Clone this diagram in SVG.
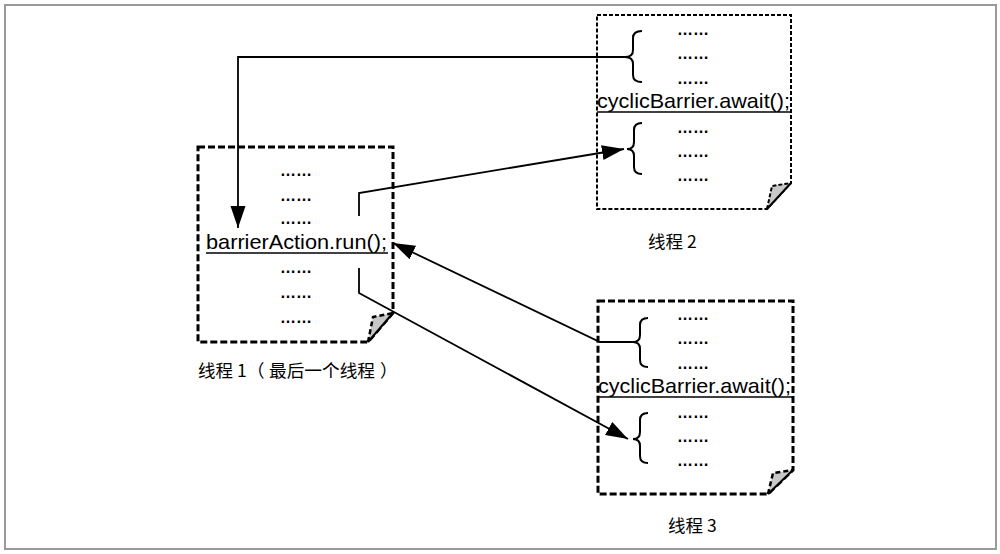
<svg xmlns="http://www.w3.org/2000/svg" width="1000" height="554" viewBox="0 0 1000 554">
<defs>
<marker id="arr" markerUnits="userSpaceOnUse" markerWidth="24" markerHeight="16" refX="22" refY="7.5" orient="auto">
<path d="M0,0 L22,7.5 L0,15 Z" fill="#000"/>
</marker>
<style>
.frame{fill:#fff;stroke:#9a9a9a;stroke-width:2}
.boxA{fill:none;stroke:#000;stroke-width:3;stroke-dasharray:7 3}
.boxB{fill:none;stroke:#000;stroke-width:2;stroke-dasharray:4 2}
.foldA{fill:#c8c8c8;stroke:#000;stroke-width:2.5;stroke-dasharray:5 3}
.foldB{fill:#c8c8c8;stroke:#000;stroke-width:2;stroke-dasharray:4 2}
.diag{stroke:#000;stroke-width:2;fill:none}
.div{stroke:#000;stroke-width:1.6}
.code{font-family:"Liberation Sans",Arial,sans-serif;font-size:21px;fill:#000}
.dots{font-family:"Liberation Sans",Arial,sans-serif;font-size:16px;font-weight:bold;fill:#000}
.brace{fill:none;stroke:#000;stroke-width:2}
.lbl{font-family:"Noto Sans CJK SC","Liberation Sans",sans-serif;font-size:17.5px;fill:#000}
.conn{fill:none;stroke:#000;stroke-width:1.8}
</style>
</defs>
<rect class="frame" x="5" y="5" width="991" height="544"/>

<g id="thread1">
<path class="boxA" d="M198,147 H393 V313 L368,342 H198 Z"/>
<path class="foldA" d="M368,342 L373,317 L393,313"/>
<path class="diag" d="M393,313 L368,342"/>
<text class="dots" x="280" y="176">……</text>
<text class="dots" x="280" y="201">……</text>
<text class="dots" x="280" y="224">……</text>
<text class="code" x="206" y="249" textLength="181" lengthAdjust="spacingAndGlyphs">barrierAction.run();</text>
<line class="div" x1="206" y1="253" x2="388" y2="253"/>
<text class="dots" x="280" y="273">……</text>
<text class="dots" x="280" y="298">……</text>
<text class="dots" x="280" y="323">……</text>
<text class="lbl" y="377"><tspan x="198">线程 1</tspan><tspan x="247">（</tspan><tspan x="269" textLength="106" lengthAdjust="spacingAndGlyphs">最后一个线程</tspan><tspan x="380">）</tspan></text>
</g>

<g id="thread2">
<path class="boxB" d="M597,15 H791 V183 L767,209 H597 Z"/>
<path class="foldB" d="M767,209 L772,186 L791,183"/>
<path class="diag" d="M791,183 L767,209"/>
<path class="brace" d="M642,31 Q633,31 633,38 V50 Q633,57 625,57 Q633,57 633,64 V75 Q633,82 642,82"/>
<text class="dots" x="677" y="35">……</text>
<text class="dots" x="677" y="59">……</text>
<text class="dots" x="677" y="84">……</text>
<text class="code" x="597" y="108" textLength="193" lengthAdjust="spacingAndGlyphs">cyclicBarrier.await();</text>
<line class="div" x1="597" y1="112" x2="791" y2="112"/>
<path class="brace" d="M642,123 Q634,123 634,130 V142 Q634,149 627,149 Q634,149 634,156 V167 Q634,174 642,174"/>
<text class="dots" x="677" y="133">……</text>
<text class="dots" x="677" y="157">……</text>
<text class="dots" x="677" y="181">……</text>
<text class="lbl" x="648" y="248">线程 2</text>
</g>

<g id="thread3">
<path class="boxA" d="M598,301 H793 V470 L768,494 H598 Z"/>
<path class="foldA" d="M768,494 L773,473 L793,470"/>
<path class="diag" d="M793,470 L768,494"/>
<path class="brace" d="M648,318 Q640,318 640,325 V335 Q640,342 633,342 Q640,342 640,349 V360 Q640,367 648,367"/>
<text class="dots" x="677" y="320">……</text>
<text class="dots" x="677" y="344">……</text>
<text class="dots" x="677" y="369">……</text>
<text class="code" x="598" y="393" textLength="193" lengthAdjust="spacingAndGlyphs">cyclicBarrier.await();</text>
<line class="div" x1="598" y1="397" x2="793" y2="397"/>
<path class="brace" d="M648,413 Q640,413 640,420 V432 Q640,439 633,439 Q640,439 640,446 V456 Q640,463 648,463"/>
<text class="dots" x="677" y="418">……</text>
<text class="dots" x="677" y="442">……</text>
<text class="dots" x="677" y="466">……</text>
<text class="lbl" x="668" y="532">线程 3</text>
</g>

<g id="connectors">
<path class="conn" d="M625,57 H238 V228" marker-end="url(#arr)"/>
<path class="conn" d="M359,216 V193 L624,149" marker-end="url(#arr)"/>
<path class="conn" d="M633,342 H600 L393,243" marker-end="url(#arr)"/>
<path class="conn" d="M359,268 V293 L628,439" marker-end="url(#arr)"/>
</g>
</svg>
